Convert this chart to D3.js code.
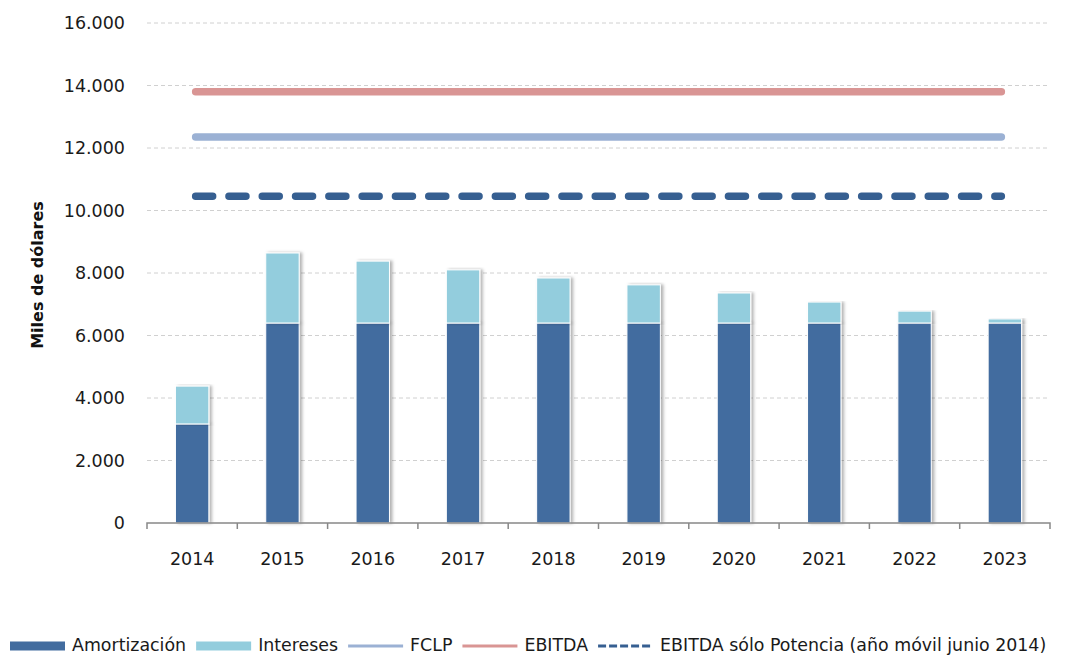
<!DOCTYPE html>
<html>
<head>
<meta charset="utf-8">
<script src="https://cdn.jsdelivr.net/npm/d3@7"></script>
<style>
  body { margin: 0; background: #fff; }
  text { font-family: "DejaVu Sans", Verdana, sans-serif; }
</style>
</head>
<body>
<div id="container"></div>
<script>
/* DATA */
const years = ["2014", "2015", "2016", "2017", "2018", "2019", "2020", "2021", "2022", "2023"];
const amortizacion = [3170, 6400, 6400, 6400, 6400, 6400, 6400, 6400, 6400, 6400];
const intereses = [1210, 2240, 1980, 1700, 1440, 1220, 960, 670, 380, 130];
const fclp = 12350;
const ebitda = 13800;
const ebitdaPotencia = 10460;
const yTicks = [0, 2000, 4000, 6000, 8000, 10000, 12000, 14000, 16000];

const width = 1077, height = 655,
  margin = { top: 23, bottom: 132, left: 147, right: 27 };

const colors = {
  amort: "#426c9f",
  inter: "#93cddd",
  fclp: "#9bb1d4",
  ebitda: "#d99594",
  potencia: "#365f91"
};

const svg = d3.select("#container")
  .append("svg")
  .attr("width", width)
  .attr("height", height);

// shadow for the bars
const defs = svg.append("defs");
defs.append("filter")
  .attr("id", "shadow")
  .attr("x", "-20%").attr("y", "-5%")
  .attr("width", "150%").attr("height", "110%")
  .append("feDropShadow")
  .attr("dx", 2.5).attr("dy", 0)
  .attr("stdDeviation", 1.5)
  .attr("flood-color", "#000")
  .attr("flood-opacity", 0.3);

const xScale = d3.scaleBand()
  .domain(years)
  .range([margin.left, width - margin.right])
  .paddingInner(0.63)
  .paddingOuter(0.315);

const xBand = d3.scaleBand()
  .domain(years)
  .range([margin.left, width - margin.right]);

const yScale = d3.scaleLinear()
  .domain([0, 16000])
  .range([height - margin.bottom, margin.top]);

const fmt = d => d3.format(",")(d).replace(/,/g, ".");

// gridlines
svg.append("g")
  .selectAll("line")
  .data(yTicks.filter(d => d > 0))
  .join("line")
  .attr("x1", margin.left)
  .attr("x2", width - margin.right)
  .attr("y1", d => yScale(d))
  .attr("y2", d => yScale(d))
  .attr("stroke", "#d0d0d0")
  .attr("stroke-width", 1)
  .attr("stroke-dasharray", "4,3");

// y tick labels
svg.append("g")
  .selectAll("text")
  .data(yTicks)
  .join("text")
  .attr("x", 125)
  .attr("y", d => yScale(d))
  .attr("dy", "0.36em")
  .attr("text-anchor", "end")
  .attr("font-size", 17.5)
  .attr("fill", "#1a1a1a")
  .text(fmt);

// y axis title
svg.append("text")
  .attr("transform", `translate(43, 275) rotate(-90)`)
  .attr("text-anchor", "middle")
  .attr("font-size", 16)
  .attr("font-weight", "bold")
  .attr("fill", "#111")
  .text("Miles de dólares");

// stacked bars
const stackData = years.map((y, i) => ({ year: y, amort: amortizacion[i], inter: intereses[i] }));
const series = d3.stack().keys(["amort", "inter"])(stackData);

svg.append("g")
  .selectAll("g")
  .data(series)
  .join("g")
  .attr("fill", d => colors[d.key])
  .selectAll("rect")
  .data(d => d)
  .join("rect")
  .attr("x", d => xScale(d.data.year))
  .attr("width", xScale.bandwidth())
  .attr("y", d => yScale(d[1]))
  .attr("height", d => yScale(d[0]) - yScale(d[1]))
  .attr("stroke", "#fff")
  .attr("stroke-width", 1)
  .attr("filter", "url(#shadow)");

// x axis
const xAxis = d3.axisBottom(xBand).tickSize(0).tickPadding(30);
const xg = svg.append("g")
  .attr("transform", `translate(0, ${yScale(0)})`)
  .call(xAxis);
xg.select(".domain").attr("stroke", "#888").attr("stroke-width", 1.5)
  .attr("d", `M${margin.left},6V0H${width - margin.right}V6`);
xg.selectAll(".tick text")
  .attr("font-size", 17.5)
  .attr("fill", "#1a1a1a")
  .attr("font-family", "DejaVu Sans, sans-serif");
svg.append("g")
  .selectAll("line")
  .data(years.slice(1))
  .join("line")
  .attr("x1", d => xBand(d))
  .attr("x2", d => xBand(d))
  .attr("y1", yScale(0))
  .attr("y2", yScale(0) + 6)
  .attr("stroke", "#888")
  .attr("stroke-width", 1.5);

// horizontal reference lines
const x0 = xBand(years[0]) + xBand.bandwidth() / 2,
  x1 = xBand(years[years.length - 1]) + xBand.bandwidth() / 2;
const refLines = [
  { value: ebitda, color: colors.ebitda, dash: null },
  { value: fclp, color: colors.fclp, dash: null },
  { value: ebitdaPotencia, color: colors.potencia, dash: "17,16.3" }
];
svg.append("g")
  .selectAll("line")
  .data(refLines)
  .join("line")
  .attr("x1", x0 + 3.5)
  .attr("x2", x1 - 3.5)
  .attr("y1", d => yScale(d.value))
  .attr("y2", d => yScale(d.value))
  .attr("stroke", d => d.color)
  .attr("stroke-width", 7.5)
  .attr("stroke-linecap", "round")
  .attr("stroke-dasharray", d => d.dash);

// legend
const legendItems = [
  { label: "Amortización", type: "rect", color: colors.amort },
  { label: "Intereses", type: "rect", color: colors.inter },
  { label: "FCLP", type: "line", color: colors.fclp },
  { label: "EBITDA", type: "line", color: colors.ebitda },
  { label: "EBITDA sólo Potencia (año móvil junio 2014)", type: "dash", color: colors.potencia }
];
const legend = svg.append("g").attr("transform", "translate(10, 646)");
let lx = 0;
legendItems.forEach(item => {
  const g = legend.append("g").attr("transform", `translate(${lx}, 0)`);
  if (item.type === "rect") {
    g.append("rect").attr("x", 0).attr("y", -4.5).attr("width", 55).attr("height", 9).attr("fill", item.color);
  } else {
    g.append("line").attr("x1", 0).attr("x2", 55).attr("y1", 0).attr("y2", 0)
      .attr("stroke", item.color).attr("stroke-width", 3)
      .attr("stroke-dasharray", item.type === "dash" ? "8,3" : null);
  }
  const t = g.append("text")
    .attr("x", 62)
    .attr("y", 5)
    .attr("font-size", 17.4)
    .attr("font-family", "DejaVu Sans Condensed, DejaVu Sans, sans-serif")
    .attr("fill", "#1a1a1a")
    .text(item.label);
  lx += 62 + t.node().getComputedTextLength() + 10;
});
</script>
</body>
</html>
